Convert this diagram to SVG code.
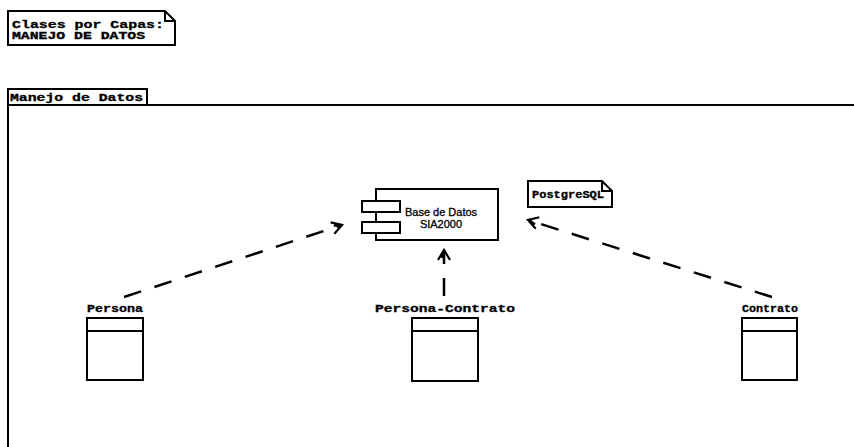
<svg xmlns="http://www.w3.org/2000/svg" width="854" height="447" viewBox="0 0 854 447">
<defs>
<style>
.ln{fill:none;stroke:#000;stroke-width:2}
.bx{fill:#fff;stroke:#000;stroke-width:2}
.mono{font-family:"Liberation Mono","Courier New",monospace;font-weight:bold;font-size:10px;fill:#000;stroke:#000;stroke-width:0.3}
.sans{font-family:"Liberation Sans",Arial,sans-serif;font-size:11px;fill:#000;stroke:#000;stroke-width:0.3}
.dash{fill:none;stroke:#000;stroke-width:2.5;stroke-dasharray:18 14}
</style>
<marker id="open" markerWidth="14" markerHeight="14" refX="12" refY="7" orient="auto" markerUnits="userSpaceOnUse">
<path d="M2,1 L12,7 L2,13 M4,5 L11,7.5" fill="none" stroke="#000" stroke-width="2.2"/>
</marker>
</defs>
<rect width="854" height="447" fill="#fff"/>

<g id="note-capas">
<path class="bx" d="M8,11 H165 L175,21 V45 H8 Z"/>
<path class="ln" d="M165,11 V21 H175"/>
<text class="mono" x="12" y="28" textLength="152" lengthAdjust="spacingAndGlyphs">Clases por Capas:</text>
<text class="mono" x="12" y="39" textLength="133" lengthAdjust="spacingAndGlyphs">MANEJO DE DATOS</text>
</g>

<g id="package">
<path class="ln" d="M8,447 V89 H147 V105"/>
<path class="ln" d="M8,105 H854"/>
<text class="mono" x="10" y="101" textLength="133" lengthAdjust="spacingAndGlyphs">Manejo de Datos</text>
</g>

<g id="db">
<rect class="bx" x="376" y="189" width="122" height="51"/>
<rect class="bx" x="362" y="201" width="38" height="11"/>
<rect class="bx" x="362" y="222" width="38" height="11"/>
<text class="sans" x="441" y="216" text-anchor="middle">Base de Datos</text>
<text class="sans" x="441" y="228" text-anchor="middle">SIA2000</text>
</g>

<g id="note-postgres">
<path class="bx" d="M528,181 H602 L612,191 V207 H528 Z"/>
<path class="ln" d="M602,181 V191 H612"/>
<text class="mono" x="532" y="198" textLength="72" lengthAdjust="spacingAndGlyphs">PostgreSQL</text>
</g>

<g id="persona">
<text class="mono" x="87" y="312" textLength="56" lengthAdjust="spacingAndGlyphs">Persona</text>
<rect class="bx" x="87" y="318" width="56" height="62"/>
<line class="ln" x1="87" y1="331" x2="143" y2="331"/>
</g>

<g id="persona-contrato">
<text class="mono" x="375" y="312" textLength="140" lengthAdjust="spacingAndGlyphs">Persona-Contrato</text>
<rect class="bx" x="412" y="318" width="66" height="63"/>
<line class="ln" x1="412" y1="331" x2="478" y2="331"/>
</g>

<g id="contrato">
<text class="mono" x="742" y="312" textLength="56" lengthAdjust="spacingAndGlyphs">Contrato</text>
<rect class="bx" x="742" y="318" width="55" height="62"/>
<line class="ln" x1="742" y1="331" x2="797" y2="331"/>
</g>

<g id="connectors">
<line class="dash" x1="124" y1="297" x2="342" y2="225" marker-end="url(#open)"/>
<line class="dash" x1="444" y1="296" x2="444" y2="250" stroke-dasharray="16 14" marker-end="url(#open)"/>
<line class="dash" x1="772" y1="297" x2="528" y2="220" marker-end="url(#open)"/>
</g>
</svg>
